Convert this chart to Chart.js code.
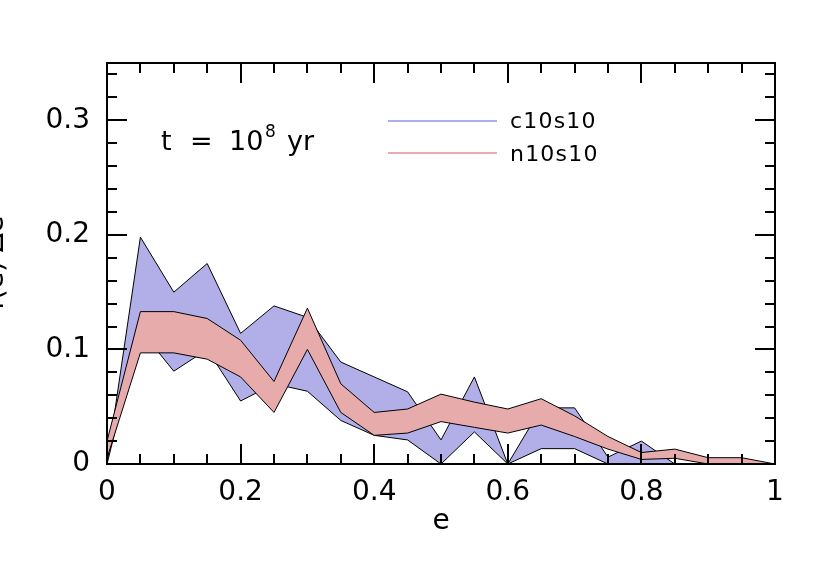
<!DOCTYPE html>
<html><head><meta charset="utf-8">
<script src="https://cdn.jsdelivr.net/npm/chart.js@4.4.1/dist/chart.umd.min.js"></script>
<style>html,body{margin:0;padding:0;background:#fff;}#wrap{width:830px;height:567px;}</style>
</head><body><div id="wrap"><canvas id="c" width="830" height="567"></canvas></div>
<script>
// eccentricity bins
const eccentricity = [0,0.05,0.1,0.15,0.2,0.25,0.3,0.35,0.4,0.45,0.5,0.55,0.6,0.65,0.7,0.75,0.8,0.85,0.9,0.95,1];
// c10s10 band (blue)
const c10s10Upper = [0,0.198,0.150,0.175,0.114,0.138,0.128,0.089,0.076,0.063,0.021,0.076,0,0.049,0.049,0.006,0.020,0,0,0,0];
const c10s10Lower = [0,0.117,0.081,0.100,0.055,0.070,0.0635,0.038,0.025,0.021,0,0.028,0,0.0134,0.0134,0,0,0,0,0,0];
// n10s10 band (red)
const n10s10Upper = [0.020,0.133,0.133,0.127,0.108,0.072,0.136,0.070,0.045,0.048,0.061,0.054,0.048,0.057,0.042,0.024,0.010,0.013,0.0055,0.0055,0];
const n10s10Lower = [0.005,0.097,0.097,0.0915,0.076,0.045,0.100,0.045,0.025,0.027,0.037,0.032,0.027,0.034,0.024,0.013,0.004,0.005,0,0,0];
const xTickLabels = ['0','0.2','0.4','0.6','0.8','1'];
const yTickLabels = ['0','0.1','0.2','0.3'];
const seriesNames = ['c10s10','n10s10'];

const BLUE_FILL = '#B1AEE8', RED_FILL = '#E8ABAB';
const BLUE_LINE = '#ADADF2', RED_LINE = '#EDACAC';
const FONT = 'DejaVu Sans';

const pts = arr => eccentricity.map((e,i)=>({x:e,y:arr[i]}));
const base = {borderColor:'#000',borderWidth:1,pointRadius:0,tension:0};

const frame = {
  id:'frame',
  afterDatasetsDraw(chart){
    const {ctx, chartArea:a, scales:{x,y}} = chart;
    ctx.save();
    ctx.strokeStyle='#000'; ctx.lineWidth=2; ctx.lineCap='butt';
    ctx.beginPath();
    for(let k=0;k<=20;k++){
      const v=k*0.05, px=Math.round(x.getPixelForValue(v));
      const len = (k%4===0)?20:10;
      ctx.moveTo(px,a.bottom); ctx.lineTo(px,a.bottom-len);
      ctx.moveTo(px,a.top); ctx.lineTo(px,a.top+len);
    }
    for(let k=0;k<=17;k++){
      const v=k*0.02, py=Math.round(y.getPixelForValue(v));
      const len = (k%5===0)?20:10;
      ctx.moveTo(a.left,py); ctx.lineTo(a.left+len,py);
      ctx.moveTo(a.right,py); ctx.lineTo(a.right-len,py);
    }
    ctx.stroke();
    ctx.strokeRect(a.left,a.top,a.right-a.left,a.bottom-a.top);
    // legend
    ctx.lineWidth=2;
    ctx.strokeStyle=BLUE_LINE; ctx.beginPath(); ctx.moveTo(388,121); ctx.lineTo(497,121); ctx.stroke();
    ctx.strokeStyle=RED_LINE; ctx.beginPath(); ctx.moveTo(388,153); ctx.lineTo(497,153); ctx.stroke();
    ctx.fillStyle='#000'; ctx.textBaseline='alphabetic'; ctx.textAlign='left';
    ctx.font='22px "'+FONT+'"';
    try{ctx.letterSpacing='1.2px';}catch(e){}
    ctx.fillText(seriesNames[0],510,128);
    ctx.fillText(seriesNames[1],510,161);
    try{ctx.letterSpacing='0px';}catch(e){}
    // annotation
    ctx.font='27px "'+FONT+'"';
    ctx.fillText('t',161,150);
    ctx.fillText('=',190,150);
    ctx.fillText('10',229,150);
    ctx.font='17px "'+FONT+'"';
    ctx.fillText('8',265,137);
    ctx.font='27px "'+FONT+'"';
    ctx.fillText('yr',287,150);
    // y-axis title (mostly outside canvas)
    ctx.save();
    ctx.translate(3,263); ctx.rotate(-Math.PI/2);
    ctx.textAlign='center'; ctx.font='28px "'+FONT+'"';
    ctx.fillText('f(e) \u0394e',0,0);
    ctx.restore();
    ctx.restore();
  }
};

new Chart(document.getElementById('c'),{
  type:'line',
  data:{datasets:[
    {...base,label:'n10s10 lower',data:pts(n10s10Lower),fill:false},
    {...base,label:'n10s10 upper',data:pts(n10s10Upper),fill:'-1',backgroundColor:RED_FILL},
    {...base,label:'c10s10 lower',data:pts(c10s10Lower),fill:false},
    {...base,label:'c10s10 upper',data:pts(c10s10Upper),fill:'-1',backgroundColor:BLUE_FILL}
  ]},
  options:{
    responsive:false,animation:false,
    layout:{padding:{top:63,right:55,left:0,bottom:0}},
    plugins:{legend:{display:false},tooltip:{enabled:false}},
    scales:{
      x:{type:'linear',min:0,max:1,
        grid:{display:false,drawTicks:false,tickLength:0},border:{display:false},
        ticks:{stepSize:0.2,color:'#000',padding:15,font:{family:FONT,size:28,lineHeight:1},
          callback:v=>xTickLabels[Math.round(v/0.2)]},
        title:{display:true,text:'e',color:'#000',font:{family:FONT,size:28,lineHeight:1},padding:{top:0,bottom:31}},
        afterFit(s){s.height=103;}
      },
      y:{min:0,max:0.35,
        grid:{display:false,drawTicks:false,tickLength:0},border:{display:false},
        ticks:{stepSize:0.1,includeBounds:false,color:'#000',padding:17,font:{family:FONT,size:28,lineHeight:1},
          callback:v=>yTickLabels[Math.round(v/0.1)]},
        afterFit(s){s.width=107;}
      }
    }
  },
  plugins:[frame]
});
</script></body></html>
